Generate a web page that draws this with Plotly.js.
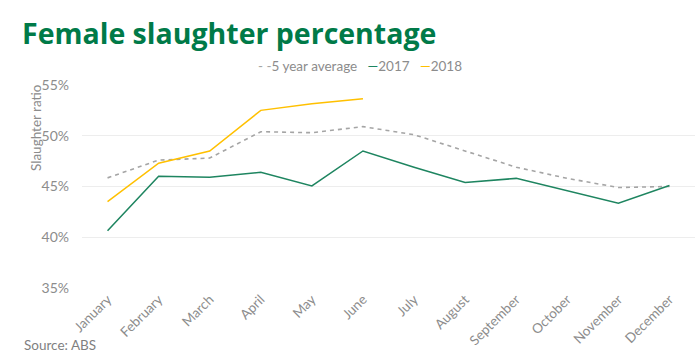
<!DOCTYPE html>
<html>
<head>
<meta charset="utf-8">
<script src="https://cdn.plot.ly/plotly-3.0.1.min.js"></script>
<style>html,body{margin:0;padding:0;background:#fff;}#chart{width:700px;height:357px;}</style>
</head>
<body>
<div id="chart"></div>
<script>
var months = ["January","February","March","April","May","June","July","August","September","October","November","December"];
var avg5 = [45.85, 47.6, 47.8, 50.4, 50.3, 50.9, 50.1, 48.5, 46.9, 45.8, 44.9, 45.0];
var y2017 = [40.65, 46.0, 45.9, 46.4, 45.05, 48.5, 46.9, 45.4, 45.8, 44.6, 43.35, 45.1];
var y2018 = [43.5, 47.3, 48.5, 52.5, 53.15, 53.65];
var yTicks = [35, 40, 45, 50, 55];

var font = "Lato, 'Open Sans', sans-serif";
var M = {l: 82, r: 5, t: 85, b: 69};
var W = 700, H = 357;
function px(x) { return (x - M.l) / (W - M.l - M.r); }
function py(y) { return (H - M.b - y) / (H - M.t - M.b); }

var traces = [
  {x: months, y: avg5, type: "scatter", mode: "lines", name: "5 year average",
   line: {color: "#A5A5A5", width: 1.6, dash: "4px,4px"}},
  {x: months, y: y2017, type: "scatter", mode: "lines", name: "2017",
   line: {color: "#1E8560", width: 1.5}},
  {x: months.slice(0, y2018.length), y: y2018, type: "scatter", mode: "lines", name: "2018",
   line: {color: "#FFC000", width: 1.5}}
];

var layout = {
  width: W, height: H,
  margin: M,
  paper_bgcolor: "#fff", plot_bgcolor: "#fff",
  showlegend: false,
  font: {family: font, color: "#8C8C8C", size: 13},
  xaxis: {
    type: "category", range: [-0.5, 11.5], tickangle: -45,
    showgrid: false, zeroline: false, showline: false, ticks: "",
    tickfont: {size: 13.5, color: "#8C8C8C"}
  },
  yaxis: {
    range: [35, 55], tickvals: yTicks, ticktext: yTicks.map(function(v){return v + "%";}),
    showgrid: true, gridcolor: "#EDEDED", gridwidth: 1, zeroline: false, showline: false,
    ticks: "", ticklabelstandoff: 12, tickfont: {size: 14, color: "#8C8C8C"}
  },
  annotations: [
    {text: "<b>Female slaughter percentage</b>", xref: "paper", yref: "paper",
     x: px(20), xanchor: "left", y: py(33), yanchor: "middle", showarrow: false,
     font: {family: "'Open Sans', sans-serif", size: 28.5, color: "#007A48"}},
    {text: '<span style="color:#A5A5A5">- -</span>5 year average   <span style="color:#1E8560">—</span>2017   <span style="color:#FFC000">—</span>2018',
     x: px(360), y: py(66), xanchor: "center", yanchor: "middle",
     xref: "paper", yref: "paper", showarrow: false,
     font: {size: 13.5, color: "#8C8C8C"}},
    {text: "Slaughter ratio", textangle: -90, x: px(36), y: py(128),
     xanchor: "center", yanchor: "middle", xref: "paper", yref: "paper", showarrow: false,
     font: {size: 13.5, color: "#8C8C8C"}},
    {text: "Source: ABS", x: px(22), y: py(345), xanchor: "left", yanchor: "middle",
     xref: "paper", yref: "paper", showarrow: false,
     font: {size: 13.5, color: "#7F7F7F"}}
  ]
};

Plotly.newPlot("chart", traces, layout, {displayModeBar: false, staticPlot: true});
</script>
</body>
</html>
